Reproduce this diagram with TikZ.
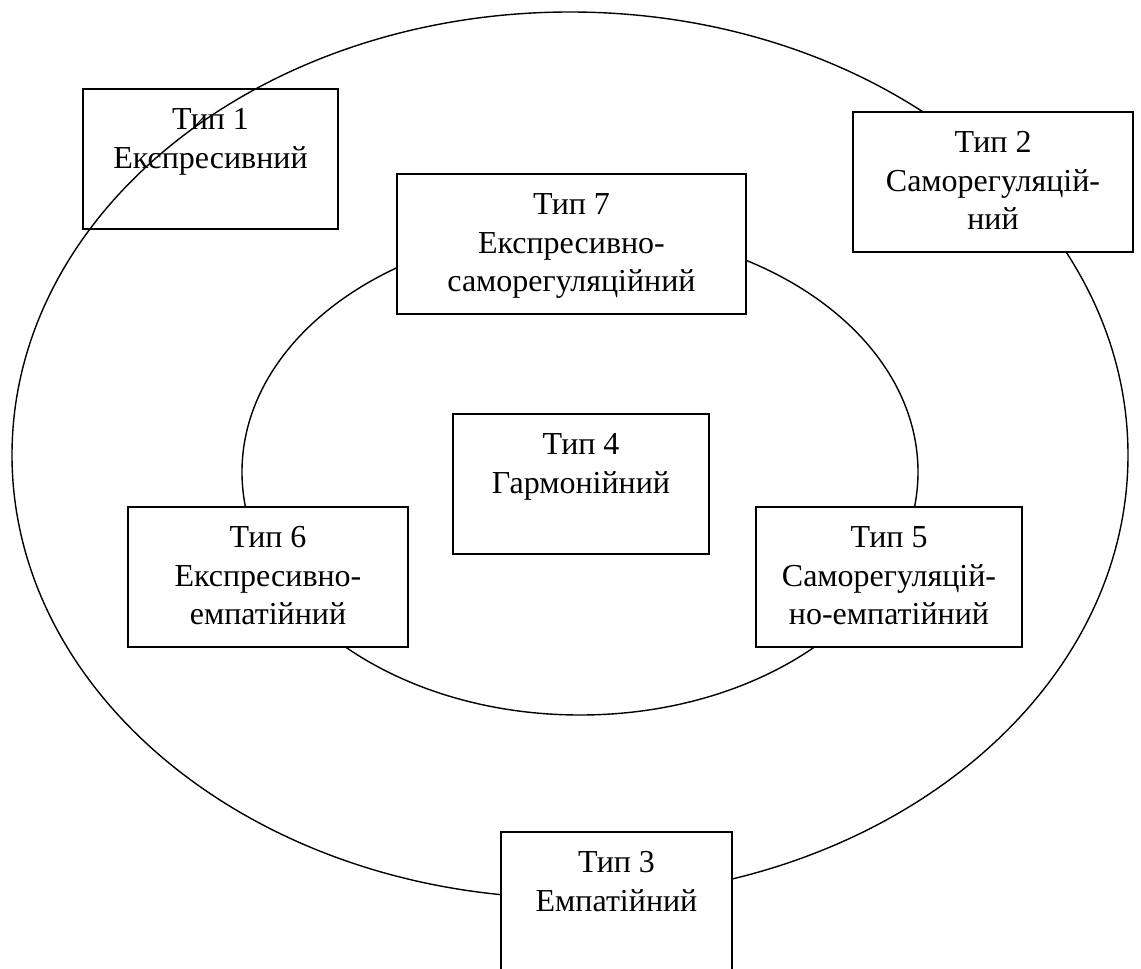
\documentclass[tikz,border=0pt]{standalone}
\usepackage{fontspec}
\setmainfont{Liberation Serif}
\usetikzlibrary{positioning}

\begin{document}
\begin{tikzpicture}[
    x=0.5pt, y=-0.5pt,
    ring/.style={line width=0.7pt},
    typebox/.style={draw, line width=0.8pt, fill=white,
                    minimum height=70pt, inner sep=0pt},
    typetext/.style={font=\fontsize{16}{19.25}\selectfont, align=center,
                     inner sep=0pt, anchor=north},
  ]
    \useasboundingbox (0,0) rectangle (1141,969);
    \clip (0,0) rectangle (1141,969);
    % outer and inner rings
    \draw[ring] (570,455) ellipse [x radius=558, y radius=443];
    \draw[ring] (580,472) ellipse [x radius=338, y radius=243];
    % boxes
    \node[typebox, fill=none, minimum width=127.5pt] (t1) at (210.5,159) {};
    \node[typebox, minimum width=140pt]   (t2) at (993,182) {};
    \node[typebox, minimum width=115.5pt] (t3) at (616.5,902) {};
    \node[typebox, minimum width=128pt]   (t4) at (581,484) {};
    \node[typebox, minimum width=133pt]   (t5) at (889,577) {};
    \node[typebox, minimum width=140pt]   (t6) at (268,577) {};
    \node[typebox, minimum width=174.5pt] (t7) at (571.5,244) {};
    % texts
    \node[typetext, below=10pt of t1.north] (t1txt) {Тип 1\\Експресивний};
    \node[typetext, below=10pt of t2.north] (t2txt) {Тип 2\\Саморегуляцій-\\ний};
    \node[typetext, below=10pt of t3.north] (t3txt) {Тип 3\\Емпатійний};
    \node[typetext, below=10pt of t4.north] (t4txt) {Тип 4\\Гармонійний};
    \node[typetext, below=10pt of t5.north] (t5txt) {Тип 5\\Саморегуляцій-\\но-емпатійний};
    \node[typetext, below=10pt of t6.north] (t6txt) {Тип 6\\Експресивно-\\емпатійний};
    \node[typetext, below=10pt of t7.north] (t7txt) {Тип 7\\Експресивно-\\саморегуляційний};
  \end{tikzpicture}
\end{document}
